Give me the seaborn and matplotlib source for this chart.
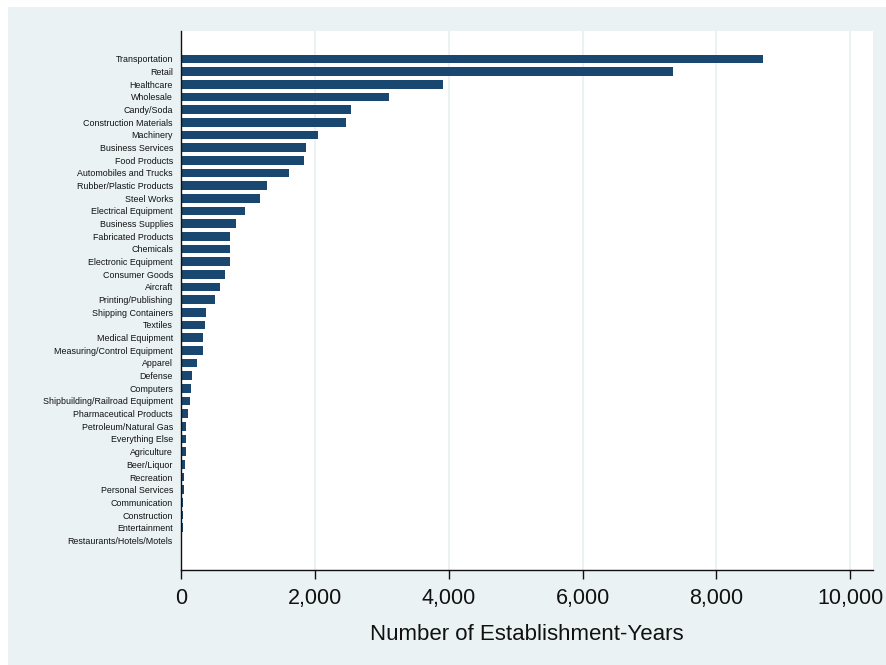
import matplotlib
matplotlib.use("Agg")
import matplotlib.pyplot as plt
from matplotlib.ticker import StrMethodFormatter
import seaborn as sns
import pandas as pd

industries = [
    "Transportation", "Retail", "Healthcare", "Wholesale", "Candy/Soda",
    "Construction Materials", "Machinery", "Business Services", "Food Products",
    "Automobiles and Trucks", "Rubber/Plastic Products", "Steel Works",
    "Electrical Equipment", "Business Supplies", "Fabricated Products",
    "Chemicals", "Electronic Equipment", "Consumer Goods", "Aircraft",
    "Printing/Publishing", "Shipping Containers", "Textiles",
    "Medical Equipment", "Measuring/Control Equipment", "Apparel", "Defense",
    "Computers", "Shipbuilding/Railroad Equipment", "Pharmaceutical Products",
    "Petroleum/Natural Gas", "Everything Else", "Agriculture", "Beer/Liquor",
    "Recreation", "Personal Services", "Communication", "Construction",
    "Entertainment", "Restaurants/Hotels/Motels",
]
establishment_years = [
    8690, 7355, 3910, 3110, 2540,
    2465, 2045, 1870, 1840,
    1615, 1285, 1175,
    960, 820, 735,
    730, 725, 660, 576,
    515, 372, 366,
    333, 322, 233, 164,
    143, 134, 105,
    82, 75, 70, 55,
    40, 38, 30, 28,
    25, 15,
]
x_ticks = [0, 2000, 4000, 6000, 8000, 10000]

df = pd.DataFrame({"industry": industries, "count": establishment_years})

W, H = 886, 665
sns.set_style("white")
plt.rcParams["font.family"] = ["Liberation Sans", "DejaVu Sans"]

fig = plt.figure(figsize=(W / 100, H / 100), dpi=100, facecolor="white")

# light graph region behind the plot
bg = fig.add_axes([8 / W, 0, 1 - 8 / W, 1 - 7 / H], zorder=-5)
bg.set_facecolor("#EAF2F3")
bg.set_xticks([])
bg.set_yticks([])
for s in bg.spines.values():
    s.set_visible(False)

ax = fig.add_axes([181 / W, 1 - 569.5 / H, (873 - 181) / W, (569.5 - 31) / H],
                  zorder=1)
ax.set_facecolor("white")

sns.barplot(data=df, x="count", y="industry", orient="h", color="#1A476F",
            saturation=1, width=0.68, linewidth=0, ax=ax)

ax.set_xlim(0, 10340)
ax.set_ylim(len(industries) - 1 + 2.3, -2.2)
ax.set_xticks(x_ticks)
ax.xaxis.set_major_formatter(StrMethodFormatter("{x:,.0f}"))

ax.set_axisbelow(True)
ax.grid(axis="x", color="#EAF2F3", linewidth=1.4)
ax.grid(axis="y", visible=False)

for side in ("top", "right"):
    ax.spines[side].set_visible(False)
for side in ("left", "bottom"):
    ax.spines[side].set_color("#111111")
    ax.spines[side].set_linewidth(1.0)

ax.tick_params(axis="x", length=6.3, width=1.0, color="#111111",
               labelsize=15.5, pad=7, labelcolor="#111111", bottom=True)
ax.tick_params(axis="y", length=0, labelsize=6.4, pad=5.8,
               labelcolor="#111111")

ax.set_xlabel("Number of Establishment-Years", fontsize=16, color="#111111",
              labelpad=11)
ax.set_ylabel("")

fig.savefig("out.png", dpi=100, facecolor=fig.get_facecolor())
